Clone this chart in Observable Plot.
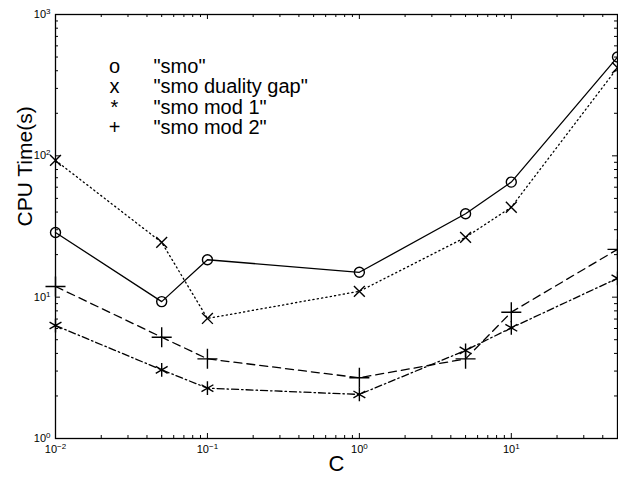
<!DOCTYPE html>
<html><head><meta charset="utf-8">
<script src="https://cdn.jsdelivr.net/npm/d3@7"></script>
<script src="https://cdn.jsdelivr.net/npm/@observablehq/plot@0.6"></script>
<style>body{margin:0;background:#fff} svg{font-family:"Liberation Sans",Arial,Helvetica,sans-serif}</style>
</head><body><div id="chart"></div><script>
// ---- data ----
const C = [0.01, 0.05, 0.1, 1, 5, 10, 50];
const smo = [28.7, 9.3, 18.4, 15.0, 38.9, 65.2, 500];
const smoDualityGap = [92.8, 24.4, 7.07, 11.0, 26.5, 43.3, 420];
const smoMod1 = [6.3, 3.06, 2.27, 2.05, 4.2, 6.07, 13.6];
const smoMod2 = [11.9, 5.21, 3.66, 2.69, 3.66, 7.83, 21.8];
const seriesNames = ['"smo"', '"smo duality gap"', '"smo mod 1"', '"smo mod 2"'];
const legendSymbols = ["o", "x", "*", "+"];
const xMajorTicks = [0.01, 0.1, 1, 10];
const xTickLabels = ["-2", "-1", "0", "1"];
const yMajorTicks = [1, 10, 100, 1000];
const yTickLabels = ["0", "1", "2", "3"];
const xLabel = "C";
const yLabel = "CPU Time(s)";

// minor ticks (2..9 times each decade)
const minor = (decades, max) => decades.flatMap(d => [2,3,4,5,6,7,8,9].map(k => k * d)).filter(v => v < max);
const xMinorTicks = minor([0.01, 0.1, 1, 10], 50);
const yMinorTicks = minor([1, 10, 100], 1000);

const W = 618, H = 480, mL = 55, mR = 1, mT = 14, mB = 42;
const innerW = W - mL - mR, innerH = H - mT - mB;

const rows = C.map((c, i) => ({c, smo: smo[i], gap: smoDualityGap[i], m1: smoMod1[i], m2: smoMod2[i]}));

const series = [
  {key: "gap", dash: "1.2,3.2", symbol: "times", r: 5},
  {key: "m2", dash: "8,5", symbol: "plus", r: 6.5},
  {key: "m1", dash: "7,3,1.5,3", symbol: "asterisk", r: 6.5},
  {key: "smo", dash: null, symbol: "circle", r: 5}
];

const tickMarks = (len, major) => {
  const xs = major ? xMajorTicks : xMinorTicks;
  const ys = major ? yMajorTicks : yMinorTicks;
  return [
    Plot.ruleX(xs, {x: d => d, insetTop: innerH - len, stroke: "black"}),
    Plot.ruleX(xs, {x: d => d, insetBottom: innerH - len, stroke: "black"}),
    Plot.ruleY(ys, {y: d => d, insetRight: innerW - len, stroke: "black"}),
    Plot.ruleY(ys, {y: d => d, insetLeft: innerW - len, stroke: "black"})
  ];
};

const legendRow = 20.3, legendTop = 52;
const legendMarks = seriesNames.flatMap((name, i) => [
  Plot.text([legendSymbols[i]], {text: d => d, frameAnchor: "top-left", dx: 59, dy: legendTop + i * legendRow, lineAnchor: "middle", fontSize: 20, textAnchor: "middle", fill: "black"}),
  Plot.text([name], {text: d => d, frameAnchor: "top-left", dx: 98, dy: legendTop + i * legendRow, lineAnchor: "middle", fontSize: 20, textAnchor: "start", fill: "black"})
]);

const chart = Plot.plot({
  width: W, height: H,
  marginLeft: mL, marginRight: mR, marginTop: mT, marginBottom: mB,
  x: {type: "log", domain: [0.01, 50]},
  y: {type: "log", domain: [1, 1000]},
  style: {fontFamily: '"Liberation Sans", Arial, sans-serif', background: "white"},
  marks: [
    ...tickMarks(5, true),
    ...tickMarks(3, false),
    Plot.axisX({ticks: xMajorTicks, tickSize: 0, tickPadding: 7, tickFormat: d => "10^" + xTickLabels[xMajorTicks.indexOf(d)], label: null, fontSize: 11, fill: "black"}),
    Plot.axisY({ticks: yMajorTicks, tickSize: 0, tickPadding: 5, tickFormat: d => "10^" + yTickLabels[yMajorTicks.indexOf(d)], label: null, fontSize: 11, fill: "black"}),
    ...series.map(s => Plot.line(rows, {x: "c", y: s.key, stroke: "black", strokeWidth: 1.3, strokeDasharray: s.dash})),
    ...series.map(s => Plot.dot(rows, {x: "c", y: s.key, symbol: s.symbol, r: s.r, stroke: "black", strokeWidth: 1.4, fill: "none"})),
    Plot.frame({stroke: "black", strokeWidth: 1.3}),
    ...legendMarks,
    Plot.text([yLabel], {text: d => d, frameAnchor: "left", dx: -30, rotate: -90, fontSize: 21, fill: "black"}),
    Plot.text([xLabel], {text: d => d, frameAnchor: "bottom", dy: 32, fontSize: 22, fill: "black"})
  ]
});

// superscript exponents in tick labels
d3.select(chart).selectAll('g[aria-label="x-axis tick label"] text, g[aria-label="y-axis tick label"] text').each(function() {
  const t = d3.select(this);
  const s = t.text();
  if (!s.startsWith("10^")) return;
  const exp = s.slice(3);
  t.text(null);
  t.append("tspan").text("10");
  t.append("tspan").attr("dy", "-0.5em").attr("font-size", "8px").text(exp.replace("-", "\u2212"));
});

document.getElementById("chart").appendChild(chart);
</script></body></html>
